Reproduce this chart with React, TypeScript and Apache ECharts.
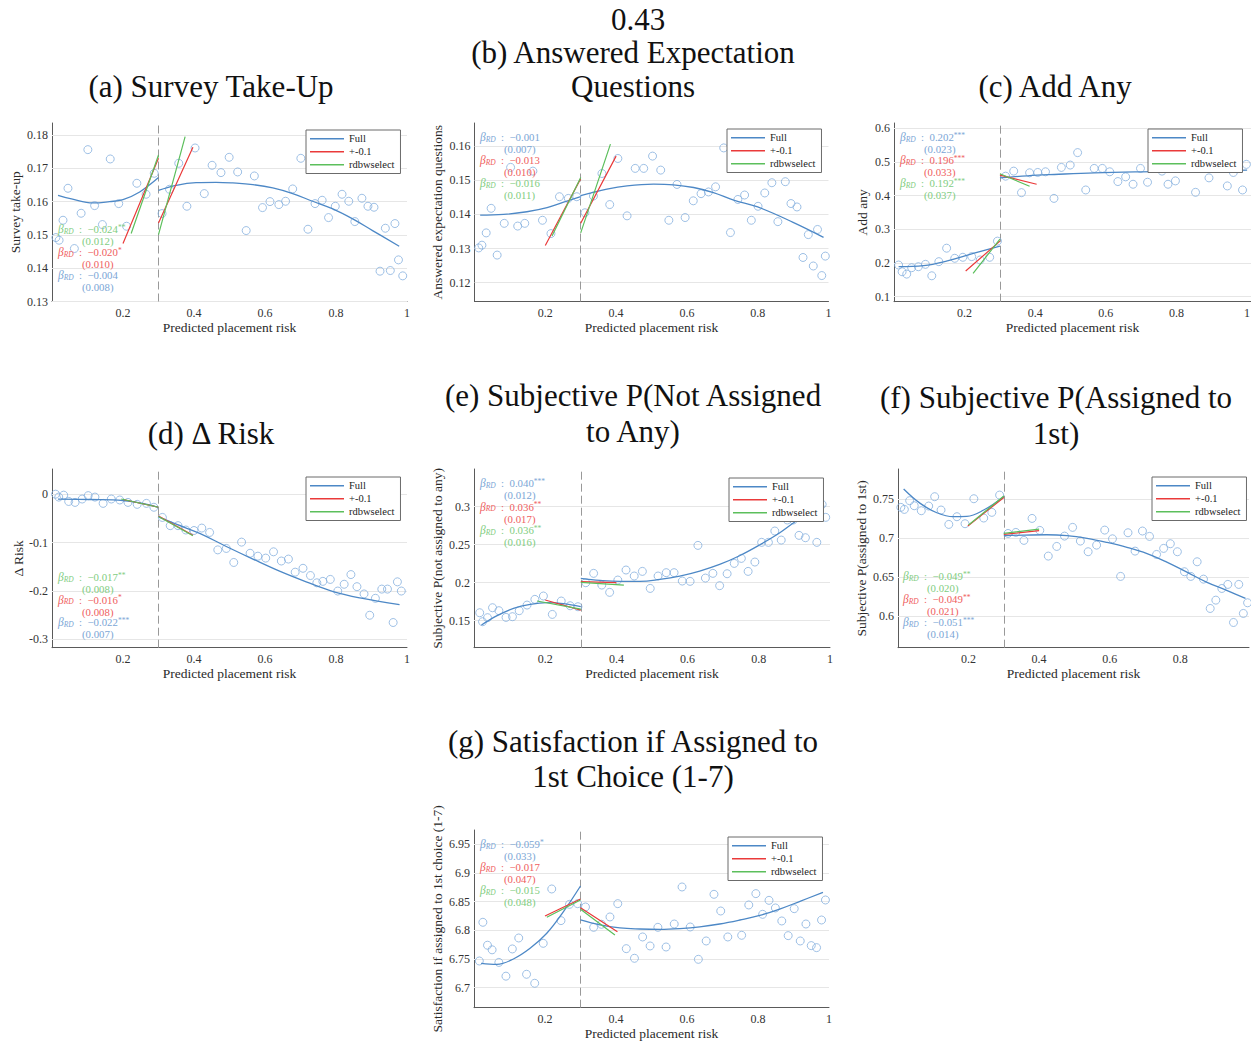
import React, { useEffect, useRef } from 'react';
import * as echarts from 'echarts';

const SERIF = '"Liberation Serif", "Times New Roman", serif';
const C_BIN = '#86b0de';
const C_FULL = '#4d88c6';
const C_NAR = '#ea3a3a';
const C_BW = '#5cbf5c';
const T_COL: Record<string, string> = { full: '#7ba6d6', nar: '#ef6060', bw: '#7fcd7f' };

const CUTOFF = 0.3;
const X_TICKS = [0.2, 0.4, 0.6, 0.8, 1];
const SUPTITLE = '0.43';

// ---------- (a) Survey Take-Up ----------
const aBinX = [0.011, 0.020, 0.031, 0.045, 0.063, 0.082, 0.101, 0.120, 0.142, 0.164, 0.188, 0.210, 0.239, 0.265, 0.288, 0.310, 0.331, 0.357, 0.380, 0.403, 0.429, 0.451, 0.476, 0.499, 0.523, 0.547, 0.570, 0.593, 0.614, 0.639, 0.658, 0.678, 0.701, 0.721, 0.741, 0.761, 0.779, 0.798, 0.817, 0.836, 0.853, 0.873, 0.890, 0.907, 0.924, 0.939, 0.953, 0.966, 0.976, 0.988];
const aBinY = [0.1492, 0.1484, 0.1544, 0.1640, 0.1459, 0.1565, 0.1756, 0.1588, 0.1531, 0.1728, 0.1594, 0.1526, 0.1655, 0.1622, 0.1685, 0.1564, 0.1637, 0.1715, 0.1586, 0.1761, 0.1624, 0.1709, 0.1687, 0.1733, 0.1689, 0.1513, 0.1677, 0.1582, 0.1600, 0.1591, 0.1601, 0.1638, 0.1730, 0.1517, 0.1594, 0.1604, 0.1552, 0.1586, 0.1622, 0.1601, 0.1540, 0.1610, 0.1586, 0.1583, 0.1391, 0.1520, 0.1393, 0.1534, 0.1425, 0.1377];
const aFullL = [[0.017, 0.1619], [0.055, 0.1608], [0.116, 0.1596], [0.162, 0.1600], [0.2, 0.1606], [0.247, 0.1629], [0.3, 0.1672]];
const aFullR = [[0.3, 0.1634], [0.35, 0.1649], [0.406, 0.1657], [0.462, 0.1658], [0.509, 0.1656], [0.566, 0.1651], [0.622, 0.1641], [0.678, 0.1624], [0.734, 0.1601], [0.791, 0.1578], [0.847, 0.1548], [0.903, 0.1513], [0.978, 0.1466]];
const aNarL = [[0.2, 0.1474], [0.3, 0.1730]];
const aNarR = [[0.3, 0.1536], [0.397, 0.1763]];
const aBwL = [[0.223, 0.1504], [0.3, 0.1740]];
const aBwR = [[0.3, 0.1501], [0.375, 0.1795]];
const aYTicks = [0.13, 0.14, 0.15, 0.16, 0.17, 0.18];
const aNotes = [['bw', '−0.024', '**', '(0.012)'], ['nar', '−0.020', '*', '(0.010)'], ['full', '−0.004', '', '(0.008)']];

// ---------- (b) Answered Expectation Questions ----------
const bBinX = [0.012, 0.021, 0.033, 0.047, 0.064, 0.084, 0.102, 0.122, 0.142, 0.165, 0.192, 0.216, 0.240, 0.265, 0.289, 0.312, 0.336, 0.360, 0.382, 0.405, 0.431, 0.454, 0.478, 0.503, 0.526, 0.549, 0.572, 0.595, 0.618, 0.640, 0.661, 0.681, 0.704, 0.723, 0.744, 0.763, 0.782, 0.801, 0.820, 0.840, 0.857, 0.878, 0.894, 0.911, 0.928, 0.943, 0.957, 0.969, 0.981, 0.991];
const bBinY = [0.1302, 0.1310, 0.1346, 0.1418, 0.1281, 0.1374, 0.1538, 0.1366, 0.1374, 0.1527, 0.1383, 0.1344, 0.1452, 0.1447, 0.1452, 0.1405, 0.1454, 0.1520, 0.1429, 0.1564, 0.1396, 0.1535, 0.1535, 0.1571, 0.1530, 0.1383, 0.1488, 0.1391, 0.1440, 0.1461, 0.1466, 0.1481, 0.1595, 0.1347, 0.1444, 0.1457, 0.1383, 0.1424, 0.1463, 0.1493, 0.1379, 0.1496, 0.1432, 0.1422, 0.1274, 0.1341, 0.1249, 0.1356, 0.1221, 0.1278];
const bFullL = [[0.016, 0.1398], [0.082, 0.1400], [0.148, 0.1408], [0.205, 0.1420], [0.261, 0.1439], [0.3, 0.1452]];
const bFullR = [[0.3, 0.1455], [0.374, 0.1474], [0.431, 0.1484], [0.506, 0.1489], [0.562, 0.1487], [0.619, 0.1479], [0.675, 0.1464], [0.732, 0.1442], [0.8, 0.1422], [0.9, 0.1377], [0.986, 0.1333]];
const bNarL = [[0.2, 0.1309], [0.3, 0.1505]];
const bNarR = [[0.3, 0.1374], [0.4, 0.1571]];
const bBwL = [[0.219, 0.1337], [0.3, 0.1508]];
const bBwR = [[0.3, 0.1346], [0.384, 0.1606]];
const bYTicks = [0.12, 0.13, 0.14, 0.15, 0.16];
const bNotes = [['full', '−0.001', '', '(0.007)'], ['nar', '−0.013', '', '(0.010)'], ['bw', '−0.016', '', '(0.011)']];

// ---------- (c) Add Any ----------
const cBinX = [0.013, 0.023, 0.036, 0.050, 0.069, 0.089, 0.107, 0.127, 0.149, 0.172, 0.195, 0.220, 0.244, 0.271, 0.293, 0.316, 0.339, 0.361, 0.384, 0.407, 0.429, 0.453, 0.474, 0.499, 0.520, 0.543, 0.567, 0.590, 0.611, 0.634, 0.656, 0.677, 0.698, 0.718, 0.759, 0.776, 0.797, 0.854, 0.892, 0.944, 0.961, 0.987, 0.998];
const cBinY = [0.194, 0.174, 0.167, 0.186, 0.189, 0.196, 0.162, 0.204, 0.244, 0.214, 0.217, 0.219, 0.209, 0.217, 0.265, 0.458, 0.473, 0.409, 0.468, 0.469, 0.471, 0.392, 0.484, 0.491, 0.528, 0.417, 0.481, 0.481, 0.471, 0.442, 0.456, 0.434, 0.481, 0.440, 0.473, 0.434, 0.444, 0.410, 0.453, 0.429, 0.469, 0.417, 0.493];
const cFullL = [[0.013, 0.189], [0.084, 0.192], [0.151, 0.206], [0.227, 0.229], [0.3, 0.250]];
const cFullR = [[0.3, 0.453], [0.378, 0.459], [0.454, 0.463], [0.568, 0.468], [0.7, 0.471], [0.852, 0.473], [1.0, 0.476]];
const cNarL = [[0.203, 0.176], [0.3, 0.265]];
const cNarR = [[0.3, 0.461], [0.404, 0.434]];
const cBwL = [[0.224, 0.169], [0.3, 0.271]];
const cBwR = [[0.3, 0.465], [0.384, 0.428]];
const cYTicks = [0.1, 0.2, 0.3, 0.4, 0.5, 0.6];
const cNotes = [['full', '0.202', '***', '(0.023)'], ['nar', '0.196', '***', '(0.033)'], ['bw', '0.192', '***', '(0.037)']];

// ---------- (d) Δ Risk ----------
const dBinX = [0.010, 0.019, 0.033, 0.047, 0.065, 0.085, 0.102, 0.121, 0.144, 0.167, 0.191, 0.214, 0.240, 0.266, 0.287, 0.311, 0.333, 0.355, 0.377, 0.400, 0.422, 0.444, 0.467, 0.491, 0.512, 0.534, 0.558, 0.580, 0.602, 0.624, 0.646, 0.666, 0.685, 0.707, 0.728, 0.746, 0.763, 0.784, 0.805, 0.823, 0.842, 0.859, 0.879, 0.895, 0.911, 0.929, 0.945, 0.961, 0.973, 0.984];
const dBinY = [0, -0.006, -0.002, -0.015, -0.017, -0.010, -0.003, -0.006, -0.019, -0.010, -0.012, -0.017, -0.021, -0.019, -0.027, -0.048, -0.065, -0.065, -0.074, -0.075, -0.070, -0.079, -0.115, -0.112, -0.141, -0.099, -0.122, -0.128, -0.132, -0.119, -0.138, -0.134, -0.161, -0.153, -0.168, -0.183, -0.180, -0.176, -0.200, -0.186, -0.166, -0.191, -0.206, -0.250, -0.215, -0.196, -0.196, -0.265, -0.181, -0.200];
const dFullL = [[0.017, -0.010], [0.106, -0.011], [0.2, -0.013], [0.247, -0.018], [0.3, -0.027]];
const dFullR = [[0.3, -0.047], [0.35, -0.062], [0.416, -0.081], [0.491, -0.108], [0.566, -0.134], [0.641, -0.159], [0.716, -0.181], [0.792, -0.201], [0.867, -0.214], [0.979, -0.228]];
const dNarL = [[0.2, -0.011], [0.3, -0.027]];
const dNarR = [[0.3, -0.045], [0.397, -0.085]];
const dBwL = [[0.195, -0.010], [0.3, -0.027]];
const dBwR = [[0.3, -0.046], [0.397, -0.086]];
const dYTicks = [-0.3, -0.2, -0.1, 0];
const dNotes = [['bw', '−0.017', '**', '(0.008)'], ['nar', '−0.016', '*', '(0.008)'], ['full', '−0.022', '***', '(0.007)']];

// ---------- (e) Subjective P(Not Assigned to Any) ----------
const eBinX = [0.016, 0.024, 0.038, 0.052, 0.070, 0.090, 0.108, 0.127, 0.149, 0.171, 0.195, 0.220, 0.245, 0.270, 0.292, 0.314, 0.336, 0.359, 0.381, 0.404, 0.427, 0.450, 0.473, 0.495, 0.517, 0.540, 0.562, 0.585, 0.607, 0.629, 0.650, 0.671, 0.690, 0.711, 0.731, 0.751, 0.770, 0.789, 0.808, 0.827, 0.845, 0.863, 0.880, 0.897, 0.913, 0.931, 0.963, 0.978, 0.988];
const eBinY = [0.1605, 0.1487, 0.1540, 0.1671, 0.1632, 0.1544, 0.1553, 0.1632, 0.1706, 0.1781, 0.1825, 0.1583, 0.1759, 0.1697, 0.1684, 0.2000, 0.2123, 0.1969, 0.1873, 0.2035, 0.2167, 0.2088, 0.2149, 0.1925, 0.2088, 0.2132, 0.2132, 0.2022, 0.2018, 0.2491, 0.2061, 0.2123, 0.1961, 0.2118, 0.2254, 0.2320, 0.2149, 0.2272, 0.2531, 0.2531, 0.2680, 0.2561, 0.2825, 0.2825, 0.2623, 0.2592, 0.2531, 0.3030, 0.2860];
const eFullL = [[0.021, 0.1443], [0.065, 0.1566], [0.111, 0.1662], [0.158, 0.1715], [0.205, 0.1737], [0.251, 0.1724], [0.3, 0.1684]];
const eFullR = [[0.3, 0.2057], [0.354, 0.2031], [0.41, 0.2018], [0.466, 0.2018], [0.522, 0.2044], [0.578, 0.2088], [0.634, 0.2154], [0.69, 0.2241], [0.746, 0.2355], [0.802, 0.2496], [0.858, 0.2654], [0.914, 0.2838], [0.984, 0.3010]];
const eNarL = [[0.2, 0.1772], [0.3, 0.1640]];
const eNarR = [[0.3, 0.2013], [0.4, 0.2000]];
const eBwL = [[0.177, 0.1759], [0.3, 0.1653]];
const eBwR = [[0.3, 0.2004], [0.421, 0.1969]];
const eYTicks = [0.15, 0.2, 0.25, 0.3];
const eNotes = [['full', '0.040', '***', '(0.012)'], ['nar', '0.036', '**', '(0.017)'], ['bw', '0.036', '**', '(0.016)']];

// ---------- (f) Subjective P(Assigned to 1st) ----------
const fBinX = [0.008, 0.018, 0.033, 0.046, 0.066, 0.087, 0.104, 0.122, 0.144, 0.167, 0.190, 0.215, 0.243, 0.266, 0.288, 0.312, 0.334, 0.357, 0.380, 0.402, 0.426, 0.450, 0.472, 0.495, 0.517, 0.539, 0.563, 0.586, 0.608, 0.631, 0.652, 0.672, 0.693, 0.713, 0.733, 0.753, 0.772, 0.792, 0.812, 0.830, 0.848, 0.866, 0.885, 0.901, 0.918, 0.935, 0.951, 0.966, 0.979, 0.991];
const fBinY = [0.7393, 0.7367, 0.7479, 0.7414, 0.7350, 0.7410, 0.7530, 0.7359, 0.7174, 0.7273, 0.7183, 0.7504, 0.7256, 0.7329, 0.7551, 0.7058, 0.7071, 0.6969, 0.7251, 0.7097, 0.6767, 0.6891, 0.7024, 0.7136, 0.6960, 0.6823, 0.6908, 0.7101, 0.6989, 0.6506, 0.7067, 0.6831, 0.7089, 0.7020, 0.6788, 0.6866, 0.6926, 0.6823, 0.6566, 0.6506, 0.6694, 0.6471, 0.6094, 0.6201, 0.6351, 0.6403, 0.5914, 0.6403, 0.6030, 0.6167];
const fFullL = [[0.016, 0.7629], [0.063, 0.7444], [0.11, 0.7324], [0.157, 0.7273], [0.195, 0.7277], [0.243, 0.7359], [0.3, 0.7530]];
const fFullR = [[0.3, 0.7029], [0.356, 0.7037], [0.422, 0.7041], [0.479, 0.7029], [0.536, 0.6994], [0.592, 0.6943], [0.649, 0.6880], [0.706, 0.6800], [0.762, 0.6690], [0.819, 0.6560], [0.876, 0.6430], [0.93, 0.6330], [0.985, 0.6223]];
const fNarL = [[0.198, 0.7153], [0.3, 0.7521]];
const fNarR = [[0.3, 0.7046], [0.4, 0.7093]];
const fBwL = [[0.2, 0.7166], [0.3, 0.7539]];
const fBwR = [[0.3, 0.7059], [0.4, 0.7114]];
const fYTicks = [0.6, 0.65, 0.7, 0.75];
const fNotes = [['bw', '−0.049', '**', '(0.020)'], ['nar', '−0.049', '**', '(0.021)'], ['full', '−0.051', '***', '(0.014)']];

// ---------- (g) Satisfaction if Assigned to 1st Choice (1-7) ----------
const gBinX = [0.015, 0.025, 0.038, 0.051, 0.070, 0.090, 0.108, 0.126, 0.148, 0.171, 0.195, 0.219, 0.245, 0.269, 0.292, 0.314, 0.337, 0.359, 0.383, 0.405, 0.429, 0.452, 0.475, 0.496, 0.518, 0.541, 0.564, 0.586, 0.609, 0.632, 0.654, 0.676, 0.695, 0.715, 0.754, 0.774, 0.794, 0.813, 0.831, 0.849, 0.867, 0.885, 0.902, 0.919, 0.935, 0.950, 0.965, 0.979, 0.990];
const gBinY = [6.7465, 6.8140, 6.7740, 6.7660, 6.7440, 6.7200, 6.7675, 6.7866, 6.7233, 6.7076, 6.7773, 6.8721, 6.8169, 6.8453, 6.8465, 6.8407, 6.8052, 6.8105, 6.8233, 6.8465, 6.7680, 6.7512, 6.7884, 6.7727, 6.8052, 6.7709, 6.8110, 6.8756, 6.8058, 6.7494, 6.7814, 6.8628, 6.8337, 6.7884, 6.7913, 6.8442, 6.8640, 6.8279, 6.8523, 6.8390, 6.8163, 6.7907, 6.8378, 6.7814, 6.8110, 6.7733, 6.7698, 6.8180, 6.8529];
const gFullL = [[0.02, 6.7424], [0.064, 6.7407], [0.111, 6.7500], [0.158, 6.7686], [0.205, 6.7948], [0.252, 6.8326], [0.3, 6.8773]];
const gFullR = [[0.3, 6.8180], [0.355, 6.8093], [0.411, 6.8041], [0.467, 6.8023], [0.524, 6.8017], [0.58, 6.8030], [0.636, 6.8060], [0.692, 6.8110], [0.749, 6.8180], [0.805, 6.8260], [0.861, 6.8370], [0.92, 6.8510], [0.983, 6.8663]];
const gNarL = [[0.2, 6.8250], [0.3, 6.8547]];
const gNarR = [[0.3, 6.8395], [0.404, 6.7977]];
const gBwL = [[0.205, 6.8227], [0.3, 6.8529]];
const gBwR = [[0.3, 6.8366], [0.397, 6.7919]];
const gYTicks = [6.7, 6.75, 6.8, 6.85, 6.9, 6.95];
const gNotes = [['full', '−0.059', '*', '(0.033)'], ['nar', '−0.017', '', '(0.047)'], ['bw', '−0.015', '', '(0.048)']];

const zip = (xs: number[], ys: number[]) => xs.map((x, i) => [x, ys[i]]);

const panels = [
  { titles: ['(a) Survey Take-Up'], tx: 211, ty: [86], yName: 'Survey take-up', yGap: 30,
    grid: { left: 52, top: 123, width: 355, height: 178.5 }, xMax: 1, yMin: 0.13, yMax: 0.1836, yStep: 0.01, yTicks: aYTicks,
    bins: zip(aBinX, aBinY), full: [aFullL, aFullR], nar: [aNarL, aNarR], bw: [aBwL, aBwR],
    leg: [306, 130], notes: aNotes, nx: 58, ny: 229, nStep: 23 },
  { titles: ['(b) Answered Expectation', 'Questions'], tx: 633, ty: [52, 86], yName: 'Answered expectation questions', yGap: 30,
    grid: { left: 474.5, top: 123, width: 354, height: 178.5 }, xMax: 1, yMin: 0.1145, yMax: 0.1668, yStep: 0.0005, yTicks: bYTicks,
    bins: zip(bBinX, bBinY), full: [bFullL, bFullR], nar: [bNarL, bNarR], bw: [bBwL, bBwR],
    leg: [727, 129], notes: bNotes, nx: 480, ny: 137, nStep: 23 },
  { titles: ['(c) Add Any'], tx: 1055, ty: [86], yName: 'Add any', yGap: 25,
    grid: { left: 894, top: 123, width: 357, height: 178.7 }, xMax: 1.011, yMin: 0.085, yMax: 0.616, yStep: 0.005, yTicks: cYTicks,
    bins: zip(cBinX, cBinY), full: [cFullL, cFullR], nar: [cNarL, cNarR], bw: [cBwL, cBwR],
    leg: [1148, 129], notes: cNotes, nx: 900, ny: 137, nStep: 23 },
  { titles: ['(d) Δ Risk'], tx: 211, ty: [433], yName: 'Δ Risk', yGap: 27,
    grid: { left: 52, top: 469, width: 355, height: 178.7 }, xMax: 1, yMin: -0.317, yMax: 0.052, yStep: 0.001, yTicks: dYTicks,
    bins: zip(dBinX, dBinY), full: [dFullL, dFullR], nar: [dNarL, dNarR], bw: [dBwL, dBwR],
    leg: [306, 477], notes: dNotes, nx: 58, ny: 577, nStep: 22.5 },
  { titles: ['(e) Subjective P(Not Assigned', 'to Any)'], tx: 633, ty: [395, 431], yName: 'Subjective P(not assigned to any)', yGap: 30,
    grid: { left: 474, top: 469, width: 356, height: 178.7 }, xMax: 1, yMin: 0.1145, yMax: 0.3496, yStep: 0.0005, yTicks: eYTicks,
    bins: zip(eBinX, eBinY), full: [eFullL, eFullR], nar: [eNarL, eNarR], bw: [eBwL, eBwR],
    leg: [729, 478], notes: eNotes, nx: 480, ny: 483, nStep: 23.5 },
  { titles: ['(f) Subjective P(Assigned to', '1st)'], tx: 1056, ty: [397, 433], yName: 'Subjective P(assigned to 1st)', yGap: 30,
    grid: { left: 898, top: 469, width: 351, height: 178.7 }, xMax: 0.995, yMin: 0.559, yMax: 0.7886, yStep: 0.001, yTicks: fYTicks,
    bins: zip(fBinX, fBinY), full: [fFullL, fFullR], nar: [fNarL, fNarR], bw: [fBwL, fBwR],
    leg: [1152, 477], notes: fNotes, nx: 903, ny: 576, nStep: 23 },
  { titles: ['(g) Satisfaction if Assigned to', '1st Choice (1-7)'], tx: 633, ty: [741, 776], yName: 'Satisfaction if assigned to 1st choice (1-7)', yGap: 30,
    grid: { left: 474, top: 830, width: 355, height: 177.7 }, xMax: 1, yMin: 6.665, yMax: 6.975, yStep: 0.005, yTicks: gYTicks,
    bins: zip(gBinX, gBinY), full: [gFullL, gFullR], nar: [gNarL, gNarR], bw: [gBwL, gBwR],
    leg: [728, 837], notes: gNotes, nx: 480, ny: 844, nStep: 23 },
];

const fmtNum = (v: number) => String(Number(v.toFixed(4)));
const TITLE_FONT = `31px ${SERIF}`;

function titleText(text: string, x: number, y: number) {
  return { type: 'text', x, y, silent: true,
    style: { text, font: TITLE_FONT, lineHeight: 28, fill: '#111', align: 'center', verticalAlign: 'middle', textAlign: 'center', textVerticalAlign: 'middle' } };
}

function buildOption() {
  const grid: any[] = [];
  const xAxis: any[] = [];
  const yAxis: any[] = [];
  const series: any[] = [];
  const legend: any[] = [];
  const graphic: any[] = [];

  graphic.push(titleText(SUPTITLE, 638, 19));

  panels.forEach((p, i) => {
    grid.push({ ...p.grid, containLabel: false, outerBoundsMode: 'none' });
    xAxis.push({
      type: 'value', gridIndex: i, min: 0, max: p.xMax, interval: 0.2,
      name: 'Predicted placement risk', nameLocation: 'middle', nameGap: 19,
      nameTextStyle: { fontFamily: SERIF, fontSize: 13.5, fontWeight: 'normal', color: '#2a2a2a' },
      axisLine: { show: true, onZero: false, lineStyle: { color: '#5a5a5a', width: 1 } },
      axisTick: { show: false }, splitLine: { show: false },
      axisLabel: { fontFamily: SERIF, fontSize: 12, fontWeight: 'normal', color: '#333', margin: 5,
        formatter: (v: number) => { const t = X_TICKS.find((k) => Math.abs(k - v) < 1e-6); return t === undefined ? '' : String(t); } },
    });
    const ticks = p.yTicks;
    yAxis.push({
      type: 'value', gridIndex: i, min: p.yMin, max: p.yMax, interval: p.yStep,
      name: p.yName, nameLocation: 'middle', nameGap: p.yGap, nameRotate: 90,
      nameTextStyle: { fontFamily: SERIF, fontSize: 13.5, fontWeight: 'normal', color: '#2a2a2a' },
      axisLine: { show: true, onZero: false, lineStyle: { color: '#5a5a5a', width: 1 } },
      axisTick: { show: false }, splitLine: { show: false },
      axisLabel: { fontFamily: SERIF, fontSize: 12, fontWeight: 'normal', color: '#333', margin: 4,
        formatter: (v: number) => { const t = ticks.find((k) => Math.abs(k - v) < p.yStep / 10); return t === undefined ? '' : fmtNum(t); } },
    });
    // gridlines + cutoff
    series.push({
      type: 'line', xAxisIndex: i, yAxisIndex: i, data: [], silent: true, z: 1,
      markLine: {
        silent: true, z: 1, symbol: ['none', 'none'], label: { show: false }, emphasis: { disabled: true },
        data: [
          ...ticks.map((v) => ({ yAxis: v, lineStyle: { color: '#e6e6e6', width: 1, type: 'solid' } })),
          { xAxis: CUTOFF, lineStyle: { color: '#999', width: 1, type: [8, 4] } },
        ],
      },
    });
    series.push({
      type: 'scatter', name: 'bins', xAxisIndex: i, yAxisIndex: i, data: p.bins, symbol: 'circle', symbolSize: 8,
      itemStyle: { color: 'rgba(255,255,255,0)', borderColor: C_BIN, borderWidth: 1 }, z: 3, silent: true,
    });
    const seg = (pair: number[][][]) => [...pair[0], [CUTOFF, '-'], ...pair[1]];
    series.push({ type: 'line', name: 'Full', xAxisIndex: i, yAxisIndex: i, data: seg(p.full), smooth: 0.4,
      symbol: 'none', showSymbol: false, connectNulls: false, lineStyle: { color: C_FULL, width: 1.3 }, itemStyle: { color: C_FULL }, z: 4, silent: true });
    series.push({ type: 'line', name: '+-0.1', xAxisIndex: i, yAxisIndex: i, data: seg(p.nar),
      symbol: 'none', showSymbol: false, connectNulls: false, lineStyle: { color: C_NAR, width: 1.2 }, itemStyle: { color: C_NAR }, z: 5, silent: true });
    series.push({ type: 'line', name: 'rdbwselect', xAxisIndex: i, yAxisIndex: i, data: seg(p.bw),
      symbol: 'none', showSymbol: false, connectNulls: false, lineStyle: { color: C_BW, width: 1.2 }, itemStyle: { color: C_BW }, z: 6, silent: true });

    legend.push({
      data: ['Full', '+-0.1', 'rdbwselect'], orient: 'vertical', left: p.leg[0], top: p.leg[1],
      icon: 'rect', itemWidth: 34, itemHeight: 1.5, itemGap: 1.5, padding: [3, 6, 3, 4],
      borderColor: '#6b6b6b', borderWidth: 1, borderRadius: 0, backgroundColor: '#fff', selectedMode: false, z: 10,
      textStyle: { fontFamily: SERIF, fontSize: 10.5, fontWeight: 'normal', color: '#222', lineHeight: 11.5 },
    });

    p.titles.forEach((t, k) => graphic.push(titleText(t, p.tx, p.ty[k])));

    p.notes.forEach((n, k) => {
      const col = T_COL[n[0]];
      const y = p.ny + k * p.nStep;
      const stars = n[2] ? `{p|${n[2]}}` : '';
      graphic.push({ type: 'text', x: p.nx, y, silent: true, z: 20,
        style: {
          text: `{b|β}{s|RD}{t|  :  ${n[1]}}${stars}`,
          align: 'left', verticalAlign: 'middle',
          rich: {
            b: { fontFamily: SERIF, fontStyle: 'italic', fontSize: 11.5, fill: col, lineHeight: 12, verticalAlign: 'middle' },
            s: { fontFamily: SERIF, fontStyle: 'italic', fontSize: 7.5, fill: col, lineHeight: 6, verticalAlign: 'bottom' },
            t: { fontFamily: SERIF, fontSize: 10.8, fill: col, lineHeight: 12, verticalAlign: 'middle' },
            p: { fontFamily: SERIF, fontSize: 7.5, fill: col, lineHeight: 6, verticalAlign: 'top' },
          },
        } });
      graphic.push({ type: 'text', x: p.nx + 24, y: y + 12.4, silent: true, z: 20,
        style: { text: n[3], font: `10.8px ${SERIF}`, fill: col, align: 'left', verticalAlign: 'middle', textAlign: 'left', textVerticalAlign: 'middle' } });
    });
  });

  return { animation: false, backgroundColor: '#fff', grid, xAxis, yAxis, series, legend, graphic };
}

export default function App() {
  const ref = useRef<HTMLDivElement>(null);
  useEffect(() => {
    if (!ref.current) return;
    const chart = echarts.init(ref.current, null, { renderer: 'svg' });
    chart.setOption(buildOption() as any);
    return () => chart.dispose();
  }, []);
  return <div ref={ref} style={{ position: 'absolute', left: 0, top: 0, width: 1251, height: 1042 }} />;
}
